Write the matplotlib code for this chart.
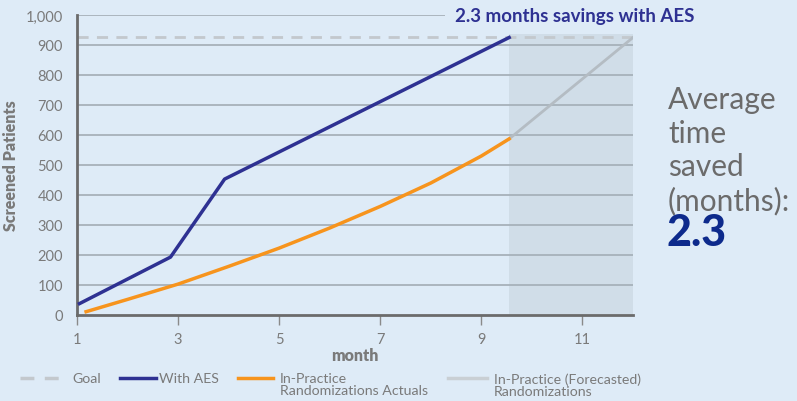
import matplotlib.pyplot as plt
from matplotlib.lines import Line2D

plt.rcParams['font.family'] = ['Lato', 'DejaVu Sans']

# data
aes_month = [1.05, 2.85, 3.92, 9.55]
aes_patients = [38, 193, 453, 925]

actual_month = [1.18, 2, 3, 4, 5, 6, 7, 8, 9, 9.55]
actual_patients = [11, 52, 103, 162, 223, 290, 362, 440, 530, 587]

forecast_month = [9.55, 12.0]
forecast_patients = [587, 925]

goal = 927
savings = 2.3
x_ticks = [1, 3, 5, 7, 9, 11]
y_ticks = list(range(0, 1001, 100))

bg = '#deebf7'
navy = '#2e3192'
orange = '#f7941d'
grey_txt = '#7a7a7a'
goal_grey = '#c3c8cd'
fc_grey = '#b4bcc3'

W, H = 797, 402
fig = plt.figure(figsize=(W / 100, H / 100), dpi=100)
fig.patch.set_facecolor(bg)
ax = fig.add_axes([77 / W, 1 - 316 / H, (633 - 77) / W, 300 / H])
ax.set_facecolor(bg)

ax.set_xlim(1, 12)
ax.set_ylim(0, 1000)

# forecast area
ax.axvspan(forecast_month[0], forecast_month[1], color='#d0dde8', zorder=0, lw=0)

for v in y_ticks[1:]:
    ax.axhline(v, color='#a7b1ba', lw=1.3, zorder=1)

ax.plot([1, 12], [goal, goal], color=goal_grey, lw=2, ls=(0, (4, 3)), zorder=2)
ax.plot(forecast_month, forecast_patients, color=fc_grey, lw=2, zorder=3)
ax.plot(actual_month, actual_patients, color=orange, lw=2.5, zorder=4)
ax.plot(aes_month, aes_patients, color=navy, lw=2.5, zorder=5)

for s in ['top', 'right']:
    ax.spines[s].set_visible(False)
for s in ['left', 'bottom']:
    ax.spines[s].set_color('#6b6b6b')
    ax.spines[s].set_linewidth(2)

ax.set_xticks(x_ticks)
ax.set_yticks(y_ticks)
ax.set_yticklabels([f'{v:,}' for v in y_ticks])
ax.tick_params(axis='x', length=7, width=1, color='#8a8a8a', colors=grey_txt, labelsize=10.5, pad=5)
ax.tick_params(axis='y', length=0, colors=grey_txt, labelsize=10.5, pad=10)
ax.set_xlabel('month', fontsize=11.5, fontweight='heavy', color=grey_txt, labelpad=1)
ax.set_ylabel('Screened Patients', fontsize=11.5, fontweight='heavy', color=grey_txt, labelpad=5)

ax.text(10.84, 997, f'{savings} months savings with AES', color=navy, fontsize=13.5,
        fontweight='bold', ha='center', va='center', zorder=6, clip_on=False,
        bbox=dict(facecolor=bg, edgecolor='none', pad=7))

fig.text(668 / W, 1 - 86 / H, 'Average\ntime\nsaved\n(months):', color='#6b6b6b', fontsize=21.5,
         ha='left', va='top', linespacing=1.24)
fig.text(666 / W, 1 - 246 / H, f'{savings}', color='#0d2a8c', fontsize=31, fontweight='black',
         ha='left', va='baseline')

# legend drawn by hand so the handles sit on the first text line
legend_items = [
    ('Goal', goal_grey, (0, (4, 3)), 20, 64, 72),
    ('With AES', navy, '-', 120, 156, 159),
    ('In-Practice\nRandomizations Actuals', orange, '-', 238, 273, 280),
    ('In-Practice (Forecasted)\nRandomizations', '#c9cfd4', '-', 448, 487, 494),
]
y_leg = 1 - 379 / H
for label, c, ls, x0, x1, xt in legend_items:
    fig.add_artist(Line2D([x0 / W, x1 / W], [y_leg, y_leg], color=c, lw=2.5, ls=ls))
    fig.text(xt / W, 1 - 373 / H, label, color=grey_txt, fontsize=10.2, ha='left', va='top',
             linespacing=1.05)

fig.savefig('out.png', dpi=100, facecolor=bg)
